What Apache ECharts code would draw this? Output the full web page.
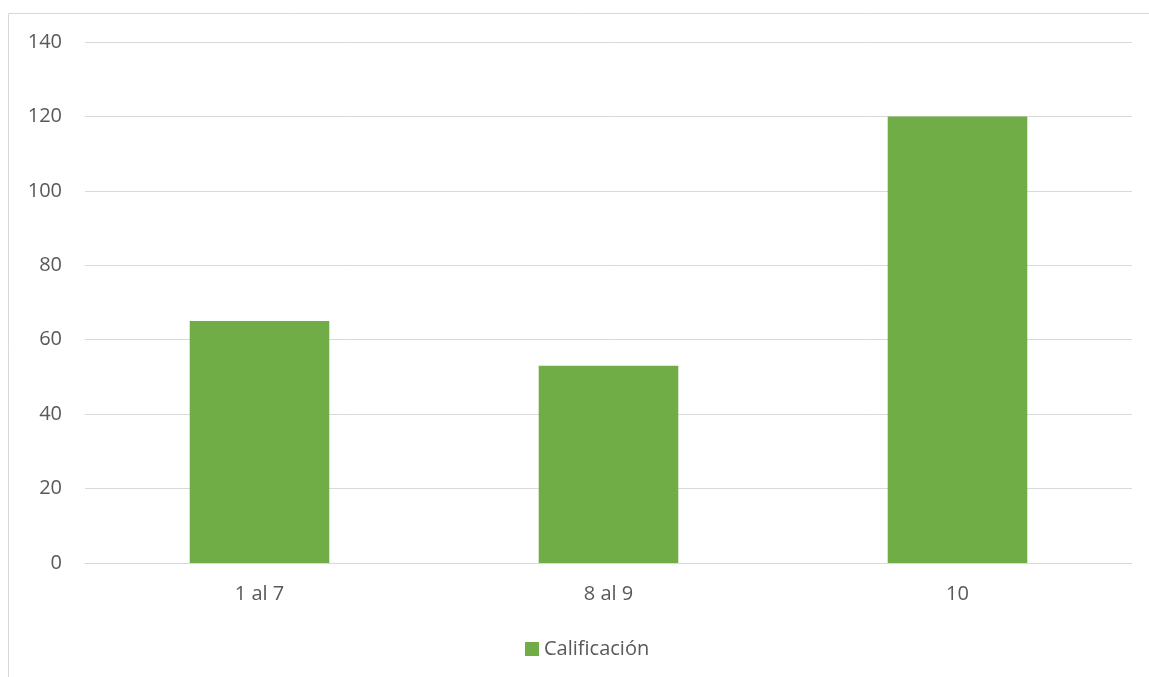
<!DOCTYPE html>
<html>
<head>
<meta charset="utf-8">
<script src="https://cdn.jsdelivr.net/npm/echarts@6/dist/echarts.min.js"></script>
<style>
  html, body { margin: 0; padding: 0; background: #fff; }
  #chart { width: 1149px; height: 677px; }
</style>
</head>
<body>
<div id="chart"></div>
<script>
// Grade ranges and number of students in each
const categories = ['1 al 7', '8 al 9', '10'];
const seriesName = 'Calificación';
const values = [65, 53, 120];
const yTicks = { min: 0, max: 140, interval: 20 };

const chart = echarts.init(document.getElementById('chart'));
const font = '"Open Sans", "Liberation Sans", sans-serif';
const labelColor = '#595959';

chart.setOption({
  animation: false,
  textStyle: { fontFamily: font },
  graphic: [{
    type: 'rect',
    shape: { x: 8.5, y: 13.5, width: 1200, height: 700 },
    style: { fill: 'none', stroke: '#d9d9d9', lineWidth: 1 },
    silent: true
  }],
  grid: { left: 85, right: 17, top: 42, bottom: 114, containLabel: false },
  legend: {
    data: [seriesName],
    top: 634,
    left: 520,
    icon: 'rect',
    itemWidth: 14,
    itemHeight: 14,
    itemGap: 6,
    textStyle: { fontFamily: font, fontSize: 20, color: labelColor }
  },
  xAxis: {
    type: 'category',
    data: categories,
    axisLine: { show: true, lineStyle: { color: '#d9d9d9', width: 1 } },
    axisTick: { show: false },
    axisLabel: { fontFamily: font, fontSize: 20, color: labelColor, margin: 21 }
  },
  yAxis: {
    type: 'value',
    min: yTicks.min,
    max: yTicks.max,
    interval: yTicks.interval,
    axisLine: { show: false },
    axisTick: { show: false },
    splitLine: { lineStyle: { color: '#d9d9d9', width: 1 } },
    axisLabel: { fontFamily: font, fontSize: 20, color: labelColor, margin: 23 }
  },
  series: [{
    name: seriesName,
    type: 'bar',
    data: values,
    barCategoryGap: '60%',
    itemStyle: { color: '#70AD47' }
  }]
});
</script>
</body>
</html>
